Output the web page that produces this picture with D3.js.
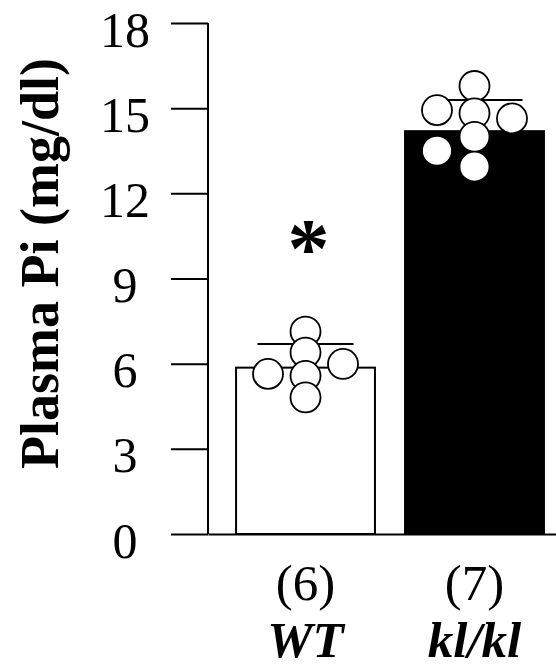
<!DOCTYPE html>
<html>
<head>
<meta charset="utf-8">
<script src="https://cdn.jsdelivr.net/npm/d3@7"></script>
<style>
  html, body { margin: 0; padding: 0; background: #fff; }
  svg { display: block; }
  text { font-family: "Liberation Serif", "Times New Roman", serif; fill: #000; }
</style>
</head>
<body>
<svg id="chart" width="556" height="669"></svg>
<script>
// ---- data ----
const groups = ["WT", "kl/kl"];
const groupN = ["(6)", "(7)"];
const means = [5.86, 14.19];
const sems = [0.83, 1.10];
const wtValues = [7.13, 6.39, 5.99, 5.64, 5.57, 4.81];
const wtSlots = ["C", "C", "R", "L", "C", "C"];
const klValues = [15.78, 14.93, 14.82, 14.64, 13.99, 13.50, 12.94];
const klSlots = ["C", "L", "C", "R", "C", "L", "C"];
const yTicks = [0, 3, 6, 9, 12, 15, 18];
const yLabel = "Plasma Pi (mg/dl)";
const sigMark = "*";
const slotNames = ["L", "C", "R"];

// ---- layout ----
const svg = d3.select("#chart");
const axisX = 208, yTop = 23, yBase = 534;

const y = d3.scaleLinear().domain([0, 18]).range([yBase, yTop]);
const x = d3.scaleBand().domain(groups).range([axisX, 572])
  .paddingInner(0.178).paddingOuter(0.166);
const slot = d3.scalePoint().domain(slotNames).range([-37.5, 37.5]);

const groupData = groups.map((g, i) => ({
  g, n: groupN[i], mean: means[i], sem: sems[i],
  pts: (i === 0 ? wtValues : klValues).map((v, j) => ({ v, s: (i === 0 ? wtSlots : klSlots)[j] }))
}));

// x axis baseline
const xAxis = svg.append("g").attr("transform", `translate(0,${yBase})`)
  .call(d3.axisBottom(x).tickSize(0).tickFormat(""));
xAxis.select(".domain").attr("stroke", "#000").attr("stroke-width", 2);

// y axis
const yAxis = svg.append("g").attr("transform", `translate(${axisX},0)`)
  .call(d3.axisLeft(y).tickValues(yTicks).tickSize(37).tickPadding(0));
yAxis.select(".domain").attr("stroke", "#000").attr("stroke-width", 2).attr("d", `M0,${yTop}V${yBase}`);
yAxis.selectAll(".tick line").attr("stroke", "#000").attr("stroke-width", 2);
yAxis.selectAll(".tick text")
  .attr("x", -83).attr("dy", "0.46em")
  .attr("text-anchor", "middle")
  .style("font-family", '"Liberation Serif", "Times New Roman", serif')
  .style("font-size", "50px").attr("fill", "#000");

// y label
svg.append("text")
  .attr("transform", `translate(58,${(62 + 465) / 2}) rotate(-90)`)
  .attr("text-anchor", "middle")
  .style("font-size", "54px").style("font-weight", "bold")
  .text(yLabel);

// bars
const cx = g => x(g) + x.bandwidth() / 2;
svg.append("g").selectAll("rect").data(groupData).join("rect")
  .attr("x", d => x(d.g)).attr("width", x.bandwidth())
  .attr("y", d => y(d.mean)).attr("height", d => y(0) - y(d.mean))
  .attr("fill", (d, i) => i === 0 ? "#fff" : "#000")
  .attr("stroke", "#000").attr("stroke-width", 2);

// error bars (upper)
const eb = svg.append("g").selectAll("g").data(groupData).join("g");
eb.append("line")
  .attr("x1", d => cx(d.g)).attr("x2", d => cx(d.g))
  .attr("y1", d => y(d.mean)).attr("y2", d => y(d.mean + d.sem))
  .attr("stroke", "#000").attr("stroke-width", 2);
eb.append("line")
  .attr("x1", d => cx(d.g) - 48).attr("x2", d => cx(d.g) + 48)
  .attr("y1", d => y(d.mean + d.sem)).attr("y2", d => y(d.mean + d.sem))
  .attr("stroke", "#000").attr("stroke-width", 2);

// points
groupData.forEach(d => {
  svg.append("g").selectAll("circle").data(d.pts).join("circle")
    .attr("cx", p => cx(d.g) + slot(p.s))
    .attr("cy", p => y(p.v))
    .attr("r", 15)
    .attr("fill", "#fff").attr("stroke", "#000").attr("stroke-width", 1.8);
});

// significance mark
svg.append("text")
  .attr("x", cx(groups[0]) + 3).attr("y", 277)
  .attr("text-anchor", "middle")
  .style("font-size", "84px").style("font-weight", "bold")
  .text(sigMark);

// group labels
svg.append("g").selectAll("text").data(groupData).join("text")
  .attr("x", d => cx(d.g)).attr("y", 600)
  .attr("text-anchor", "middle").style("font-size", "51px")
  .text(d => d.n);
svg.append("g").selectAll("text").data(groupData).join("text")
  .attr("x", d => cx(d.g)).attr("y", 657)
  .attr("text-anchor", "middle").style("font-size", "51px")
  .style("font-weight", "bold").style("font-style", "italic")
  .text(d => d.g);
</script>
</body>
</html>
